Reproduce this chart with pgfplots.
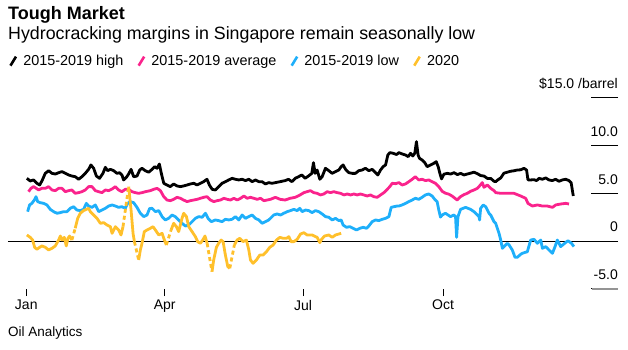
\documentclass[border=0pt]{standalone}
\usepackage{pgfplots}
\pgfplotsset{compat=1.18}
\usepackage{fontspec}
\setmainfont{Liberation Sans}
\definecolor{bpink}{RGB}{250,35,140}
\definecolor{bblue}{RGB}{30,175,250}
\definecolor{byellow}{RGB}{255,192,43}
\begin{document}
\begin{tikzpicture}
\useasboundingbox (-8pt,-54pt) rectangle (620pt,296pt);
\begin{axis}[
  at={(0pt,0pt)}, anchor=south west,
  scale only axis, width=610pt, height=198.3pt,
  xmin=-12, xmax=389, ymin=-5.76, ymax=15,
  axis line style={draw=none},
  clip=false,
  tick align=inside,
  xtick={0,91,182,274}, xticklabels={Jan,Apr,Jul,Oct},
  xtick pos=bottom,
  xtick style={draw=black, line width=0.8pt, /pgfplots/major tick length=7pt},
  xticklabel style={font=\fontsize{14}{16}\selectfont, inner sep=4pt},
  ytick={0,5,10,15}, yticklabels={0,5.0,10.0,{\$15.0 /barrel}},
  ytick pos=right, yticklabel pos=right,
  ytick style={draw=black, line width=0.9pt, /pgfplots/major tick length=27pt},
  yticklabel style={font=\fontsize{14}{16}\selectfont, anchor=base east, inner sep=0pt, yshift=9pt},
  extra y ticks={-5}, extra y tick labels={-5.0},
  legend columns=4,
  legend style={at={(0.0016,1.2205)}, anchor=north west, draw=none, fill=none, inner sep=0pt,
    font=\fontsize{14.4}{17}\selectfont,
    /tikz/every odd column/.append style={column sep=5pt},
    /tikz/every even column/.append style={column sep=13pt},
    nodes={inner sep=1pt}},
  legend image code/.code={\draw[#1, line width=2.6pt] (0pt,-4.5pt) -- (5.5pt,4.5pt);},
  every axis plot/.append style={line width=2.8pt, line join=round},
]
\addplot[black, line width=0.9pt, forget plot] coordinates {(-12,0) (389,0)};
\addplot[white, line width=2.6pt, forget plot] coordinates {(371.6,-5) (389,-5)};
\addplot[black!42, line width=2.2pt, forget plot] coordinates {(371.6,-5) (389,-5)};
\addplot[black] table {
0.4 6.56
2.6 6.28
4.8 6.39
7.0 6.04
8.8 5.86
10.3 6.28
12.5 7.08
14.7 7.36
16.9 7.08
19.1 7.01
21.3 7.15
23.5 7.26
25.7 7.08
27.9 6.91
30.0 6.80
32.2 6.73
34.4 6.46
36.6 6.73
38.8 7.08
41.0 7.50
42.5 7.96
44.3 7.61
46.1 6.80
48.2 6.56
50.4 7.08
52.0 7.71
53.5 7.36
55.3 7.50
57.5 7.36
59.6 7.08
61.4 7.15
62.9 6.91
64.0 6.39
65.8 6.66
67.3 7.01
68.9 7.50
70.6 6.73
72.8 6.80
74.6 7.43
76.1 7.61
78.3 7.35
80.5 7.20
82.7 7.50
84.4 7.78
86.0 7.61
87.5 8.06
88.8 7.08
90.4 6.04
92.5 5.86
94.7 5.69
96.9 5.97
99.1 5.76
101.3 5.69
103.4 5.76
105.7 5.86
107.9 5.97
110.1 6.04
112.3 5.86
114.5 6.04
116.6 6.21
118.8 6.46
120.4 5.86
122.2 5.41
124.3 5.34
126.5 5.69
128.7 6.04
130.9 6.21
133.1 6.39
135.3 6.56
137.5 6.46
139.7 6.39
141.9 6.46
144.1 6.32
146.3 6.46
148.5 6.21
150.7 6.39
152.9 6.21
155.0 6.21
157.2 5.97
159.4 6.11
161.5 6.04
163.8 6.11
166.9 6.21
170.2 6.32
172.4 6.46
174.6 6.21
176.8 6.56
179.0 6.73
181.1 6.91
183.3 6.56
185.5 6.80
187.7 7.08
188.8 8.20
189.9 7.08
191.2 7.43
193.0 6.46
194.5 6.73
196.7 7.61
198.9 7.36
201.1 7.08
203.3 7.26
205.5 7.43
207.0 7.78
208.3 7.96
209.9 7.50
212.1 7.15
214.3 7.08
216.4 7.08
218.6 7.36
220.8 7.43
223.0 7.61
225.2 7.36
227.4 7.50
229.6 7.15
231.1 6.91
232.9 7.43
234.6 7.78
236.2 7.96
237.7 9.00
239.0 9.25
241.2 9.18
243.4 9.05
245.0 9.25
247.1 9.11
249.3 9.00
251.1 8.83
252.6 9.18
254.1 8.90
255.4 9.18
256.5 10.40
257.6 9.00
258.5 8.65
260.2 8.48
262.0 8.20
263.5 7.78
265.8 7.96
267.9 8.13
269.5 8.30
270.8 7.78
271.9 7.08
273.0 6.50
274.6 7.00
276.8 7.08
279.0 7.01
281.2 7.15
283.4 6.95
285.6 7.08
287.7 6.91
289.9 7.01
292.1 7.10
294.3 7.20
296.5 7.05
298.7 6.85
300.9 6.80
303.1 6.55
305.3 6.55
307.5 6.25
308.6 6.21
310.0 6.40
311.9 6.60
314.0 7.10
316.2 7.20
318.4 7.30
320.6 7.35
322.8 7.43
325.0 7.45
327.2 7.61
328.9 7.43
329.8 6.40
331.6 6.39
333.8 6.42
335.5 6.32
337.1 6.56
339.3 6.46
341.5 6.60
343.6 6.39
345.8 6.32
348.0 6.46
350.2 6.25
352.4 6.39
354.6 6.46
356.8 6.32
358.2 6.10
359.6 4.71
};
\addlegendentry{2015-2019 high}
\addplot[bpink] table {
1.5 5.16
3.1 5.51
4.8 5.69
6.6 5.51
8.1 5.34
10.3 5.51
12.5 5.51
14.7 5.69
16.9 5.34
19.1 5.27
21.3 5.51
23.5 5.51
25.7 5.16
27.9 5.27
30.0 5.34
32.2 4.99
34.4 5.06
36.6 5.16
38.8 5.34
41.0 5.69
43.2 5.69
45.4 5.27
47.6 5.16
49.8 5.06
52.0 5.34
54.2 5.27
56.4 5.44
58.6 5.69
60.7 5.34
62.9 5.16
65.1 5.41
67.3 5.41
69.5 5.16
71.7 5.06
73.9 4.99
76.1 5.06
78.3 5.16
81.6 5.27
83.8 5.41
86.0 5.51
88.2 5.27
90.4 4.64
92.5 4.29
94.7 4.22
96.9 4.36
99.1 4.57
101.3 4.47
103.4 4.29
105.7 4.12
107.9 4.22
110.1 4.29
112.3 4.36
114.5 4.47
116.6 4.57
118.8 4.64
121.1 4.29
123.3 4.12
125.5 4.22
127.7 4.29
129.9 4.47
132.1 4.36
134.3 4.29
136.5 4.47
138.7 4.29
140.9 4.47
143.1 4.71
145.2 4.47
147.4 4.57
149.6 4.47
151.8 4.36
154.0 4.47
156.2 4.22
158.4 4.29
160.5 4.36
163.8 4.57
166.9 4.36
170.2 4.29
173.5 4.47
176.8 4.57
180.0 4.82
182.5 5.06
184.6 5.16
186.8 5.27
189.0 5.06
191.2 4.99
193.4 4.82
195.6 4.92
197.8 5.16
200.0 5.06
202.2 5.16
204.4 5.06
206.6 4.99
208.8 4.82
211.0 4.92
213.2 4.82
215.4 4.92
217.5 4.82
219.7 4.92
221.9 4.82
224.1 4.71
226.3 4.82
228.5 4.64
230.7 4.57
232.9 4.82
235.1 5.06
237.3 5.41
239.0 5.69
240.6 6.04
242.8 6.00
245.0 6.11
247.1 5.86
249.3 5.97
251.5 6.21
253.7 6.46
255.8 6.73
258.0 6.39
260.2 6.46
262.4 6.32
264.6 6.39
266.8 6.21
269.0 6.04
271.2 5.69
273.4 5.20
275.6 5.00
277.8 4.90
280.0 4.70
281.8 4.47
283.3 4.29
285.5 4.64
287.7 4.85
289.9 4.99
292.1 5.20
294.3 5.34
296.5 5.51
297.6 5.69
299.8 6.11
300.9 5.62
303.1 5.86
305.3 5.51
307.5 5.27
308.6 5.06
311.9 4.99
316.2 4.99
320.6 4.99
325.0 4.71
328.3 4.47
329.8 3.94
332.7 3.66
336.0 3.77
339.3 3.66
342.5 3.66
345.9 3.52
348.0 3.77
351.3 3.87
354.6 3.94
356.8 3.87
};
\addlegendentry{2015-2019 average}
\addplot[bblue] table {
0.9 3.07
2.2 3.77
3.7 3.94
5.3 4.29
6.4 4.64
7.5 4.12
9.2 4.01
11.4 3.94
13.6 3.77
15.8 3.31
18.0 3.07
20.2 2.90
22.4 2.97
24.6 3.07
26.8 3.07
28.9 3.42
31.1 3.59
33.3 3.24
35.5 3.18
37.7 3.31
39.5 3.94
41.0 3.66
43.2 3.52
45.4 3.77
47.6 3.07
49.8 3.24
52.0 3.42
54.2 3.66
56.4 3.77
58.6 3.66
60.7 3.52
62.9 3.59
65.1 3.42
66.7 3.94
68.4 4.12
70.6 4.01
72.8 3.52
75.0 2.90
77.2 2.55
79.4 2.72
81.1 3.40
82.7 3.42
84.9 3.07
87.1 3.18
89.3 2.55
91.4 2.20
93.6 2.37
95.8 2.72
98.0 2.55
100.2 2.20
102.4 1.85
104.6 1.57
106.8 1.67
109.0 2.02
111.2 2.37
113.4 2.55
115.6 2.48
117.8 2.90
119.5 2.37
121.7 2.02
124.3 2.20
126.5 2.13
128.7 2.02
130.9 2.27
133.1 2.20
135.3 2.27
137.5 2.55
139.7 2.20
141.9 2.72
144.1 2.37
146.3 2.55
148.5 2.72
150.7 2.37
152.9 2.20
155.0 1.85
157.2 2.02
159.4 2.20
160.5 2.37
162.7 2.72
164.9 2.83
167.1 2.72
169.3 2.90
171.5 3.07
173.7 3.18
175.9 3.31
178.1 3.18
179.8 3.42
181.4 3.07
183.6 3.24
185.7 3.18
187.9 2.97
190.1 3.18
192.3 3.07
194.5 2.83
196.7 2.55
198.9 2.48
201.1 2.20
203.3 2.37
205.5 2.13
207.0 2.20
208.3 1.67
210.5 1.43
212.7 1.50
214.9 1.33
217.1 1.15
219.3 1.33
221.5 1.43
223.7 1.33
225.2 1.57
227.4 2.02
229.6 2.20
231.8 2.13
234.0 2.27
236.2 2.37
238.4 2.55
239.9 3.52
241.7 3.59
243.9 3.66
245.0 3.66
247.1 3.77
249.3 3.94
251.5 4.12
253.7 4.29
255.8 4.47
258.0 4.36
260.2 4.57
262.4 4.82
264.6 4.92
266.8 4.71
268.5 4.36
270.1 4.12
271.2 3.24
272.3 2.50
273.4 2.72
275.6 2.90
278.9 2.55
281.1 2.72
282.2 2.55
282.9 0.38
283.8 2.55
285.5 3.31
288.8 3.52
292.1 3.31
294.3 3.07
296.5 2.72
297.6 2.55
298.0 2.20
298.7 3.42
300.4 3.77
302.0 3.59
304.2 2.90
305.3 2.72
307.5 2.02
308.6 1.85
310.8 0.80
311.9 0.10
313.0 -0.77
316.2 -0.24
317.4 -0.42
319.5 -0.94
321.3 -1.71
322.8 -1.71
325.0 -1.40
326.1 -1.29
329.4 -1.12
331.6 0.10
333.8 0.17
336.0 -0.24
338.2 0.10
339.3 -0.77
341.5 -0.59
343.6 -0.94
345.9 -1.29
348.0 -0.42
349.1 0.10
351.3 -0.59
354.0 -0.24
356.1 0.03
358.4 -0.24
360.0 -0.59
};
\addlegendentry{2015-2019 low}
% 2020: solid runs, dashed across the gaps
\addplot[byellow, forget plot] table {
0.4 0.63
2.6 0.38
4.2 0.10
5.5 -0.66
7.0 -0.87
8.8 -0.66
10.3 -0.52
12.5 -0.66
14.7 -0.94
16.9 -0.77
19.1 -0.52
21.3 0.10
22.4 0.52
23.5 0.10
25.0 0.38
26.3 -0.52
27.4 0.28
28.5 0.52
30.0 0.10
};
\addplot[byellow, forget plot] table {
32.2 1.33
33.8 2.37
35.5 2.90
37.7 3.18
39.5 3.31
41.0 3.42
42.1 3.07
44.3 2.72
46.5 2.37
48.7 1.85
50.9 1.92
53.1 1.67
55.3 1.50
56.4 0.80
58.6 1.50
60.7 1.15
62.3 0.63
63.6 1.50
};
\addplot[byellow, forget plot] table {
67.3 5.69
68.9 3.24
70.2 0.80
71.1 -0.07
};
\addplot[byellow, forget plot] table {
73.9 -1.99
75.0 -0.94
76.1 -0.24
77.6 0.98
79.4 1.15
81.6 1.33
83.3 1.50
84.9 1.15
87.1 0.63
89.3 0.80
90.8 0.10
92.1 -0.42
};
\addplot[byellow, forget plot] table {
95.2 1.15
96.9 1.85
98.7 1.50
100.2 0.98
102.4 2.37
103.5 2.90
105.3 2.55
106.8 1.50
109.0 0.98
111.2 0.45
112.7 -0.07
114.5 -0.24
116.0 0.10
117.5 0.52
118.9 -0.24
};
\addplot[byellow, forget plot] table {
122.1 -3.21
123.2 -1.99
125.0 -0.66
126.5 -0.24
128.1 0.10
129.4 -0.07
130.9 -1.47
132.5 -2.69
133.8 -2.86
};
\addplot[byellow, forget plot] table {
136.8 -0.42
138.6 0.10
140.4 0.28
142.5 -0.07
144.7 0.10
146.3 -0.94
147.4 -1.99
149.1 -2.34
151.3 -1.99
153.5 -1.47
155.7 -1.47
157.9 -1.12
160.1 -0.66
162.3 -0.42
164.5 0.10
166.7 0.38
168.9 0.28
171.1 0.28
172.6 0.45
174.1 -0.07
175.9 -0.07
178.1 0.17
180.3 0.73
182.5 0.87
184.6 0.63
187.9 0.63
191.2 0.38
193.0 -0.17
194.1 0.17
196.1 0.52
198.9 0.63
201.1 0.38
203.3 0.63
205.5 0.73
207.0 0.80
};
\addplot[byellow, dash pattern=on 4pt off 3pt, forget plot] table {
30.0 0.10
32.2 1.33
};
\addplot[byellow, dash pattern=on 4pt off 3pt, forget plot] table {
63.6 1.50
67.3 5.69
};
\addplot[byellow, dash pattern=on 4pt off 3pt, forget plot] table {
71.1 -0.07
73.9 -1.99
};
\addplot[byellow, dash pattern=on 4pt off 3pt, forget plot] table {
92.1 -0.42
95.2 1.15
};
\addplot[byellow, dash pattern=on 4pt off 3pt, forget plot] table {
118.9 -0.24
122.1 -3.21
};
\addplot[byellow, dash pattern=on 4pt off 3pt, forget plot] table {
133.8 -2.86
136.8 -0.42
};
\addlegendimage{byellow}
\addlegendentry{2020}
\end{axis}
\node[anchor=base west, inner sep=0pt, font=\fontsize{18}{20}\selectfont\bfseries] at (0pt,276pt) {Tough Market};
\node[anchor=base west, inner sep=0pt, font=\fontsize{17.8}{20}\selectfont] at (0pt,256.5pt) {Hydrocracking margins in Singapore remain seasonally low};
\node[anchor=base west, inner sep=0pt, font=\fontsize{13.5}{16}\selectfont] at (0pt,-40pt) {Oil Analytics};
\end{tikzpicture}
\end{document}
